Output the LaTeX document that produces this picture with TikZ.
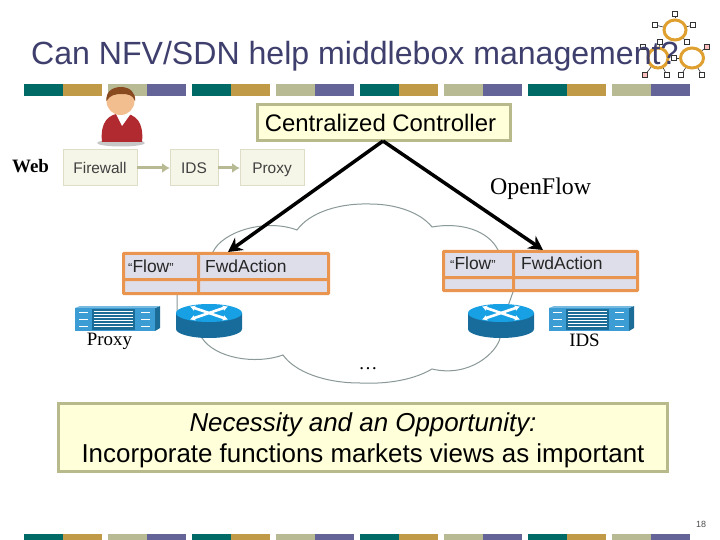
\documentclass[tikz,border=0pt]{standalone}
\usepackage{fontspec}
\setmainfont{Liberation Sans}
\newfontfamily\serifface{Liberation Serif}
\usetikzlibrary{arrows.meta,shapes.geometric}
\definecolor{barteal}{HTML}{006B66}
\definecolor{bargold}{HTML}{C09A46}
\definecolor{barkhaki}{HTML}{B8BA94}
\definecolor{barpurple}{HTML}{646498}
\definecolor{titleblue}{HTML}{3F3F6E}
\definecolor{noteyellow}{HTML}{FFFFD9}
\definecolor{noteedge}{HTML}{B8BA8C}
\definecolor{chainfill}{HTML}{F6F6E8}
\definecolor{chainedge}{HTML}{DEDEC8}
\definecolor{tableorange}{HTML}{E9954F}
\definecolor{tablefill}{HTML}{DEDEEA}
\definecolor{cloudgrey}{HTML}{8A9898}
\definecolor{routertop}{HTML}{18A0E4}
\definecolor{routerside}{HTML}{186C9C}
\definecolor{appfront}{HTML}{3C9CD4}
\definecolor{appside}{HTML}{1C6C98}
\definecolor{logoorange}{HTML}{E0A030}
\definecolor{shirt}{HTML}{B02A30}
\definecolor{skin}{HTML}{F2BE90}
\definecolor{hair}{HTML}{8A4A20}
\tikzset{
  notebox/.style={draw=noteedge,fill=noteyellow,line width=3bp,inner sep=0pt,outer sep=0pt,text=black},
  chainbox/.style={draw=chainedge,fill=chainfill,line width=1bp,inner sep=0pt,outer sep=0pt,minimum height=36bp,text=black!75,text height=13bp,text depth=1bp,font=\fontsize{15.5}{18}\selectfont},
  chainarrow/.style={draw=barkhaki,line width=3bp,-{Latex[length=8bp,width=10bp]}},
  ctrlarrow/.style={draw=black,line width=3.5bp,-{Stealth[length=14bp,width=15bp]}},
  flowcell/.style={draw=tableorange,fill=tablefill,line width=3bp,inner sep=0pt,outer sep=0pt,anchor=north west,rounded corners=0.5bp},
  celltext/.style={inner sep=0pt,anchor=west,text=black!85,font=\fontsize{17.5}{20}\selectfont},
  serifl/.style={inner sep=0pt,text=black,font=\serifface\fontsize{19}{22}\selectfont},
  tinysq/.style={draw=black!80,fill=white,line width=0.9bp,inner sep=0pt,minimum size=4.5bp},
  logoring/.style={ellipse,draw=logoorange,line width=3bp,inner sep=0pt},
  router/.pic={
    \fill[routerside] (-33,-8) -- (-33,8) arc[start angle=180,end angle=0,x radius=33,y radius=9] -- (33,-8) -- cycle;
    \fill[routertop] (0,-8) ellipse[x radius=33,y radius=9];
    \foreach \a/\b in {-19/-14.5, -19/-1.5, 19/-14.5, 19/-1.5}{
      \draw[white,line width=2.6bp,-{Latex[length=5bp,width=6bp]}] (0,-8) -- (\a,\b);
    }
  },
  appliance/.pic={
    \fill[appside] (80,2) -- (85,0) -- (85,22) -- (80,25) -- cycle;
    \fill[appfront!70!white] (0,2) -- (5,0) -- (85,0) -- (80,2) -- cycle;
    \fill[appfront] (0,2) rectangle (80,25);
    \fill[appside] (17,3) rectangle (60,24);
    \foreach \i in {5,8,11,14,17,20}{\draw[white,line width=0.9bp] (19,\i) -- (58,\i);}
    \foreach \x in {4,66}{
      \foreach \y in {6,13,20}{\draw[white,line width=0.7bp] (\x,\y) -- (\x+9,\y);}
    }
  }
}
\begin{document}
\begin{tikzpicture}[x=1bp,y=-1bp]
\useasboundingbox[fill=white] (0,0) rectangle (720,540);

% decorative bars
\foreach \dx in {0,168,336,504}{
  \foreach \yy/\hh in {84/12,534/6}{
    \fill[barteal] (24+\dx,\yy) rectangle ++(39,\hh);
    \fill[bargold] (63+\dx,\yy) rectangle ++(39,\hh);
    \fill[barkhaki] (108+\dx,\yy) rectangle ++(39,\hh);
    \fill[barpurple] (147+\dx,\yy) rectangle ++(39,\hh);
  }
}

% logo
\node[logoring,minimum width=22bp,minimum height=20bp] (ringa) at (675,30) {};
\node[logoring,minimum width=20bp,minimum height=20bp] (ringb) at (658,58) {};
\node[logoring,minimum width=23bp,minimum height=20bp] (ringc) at (692,58) {};
\foreach \n/\x/\y/\r/\cc in {a1/675/14/ringa/white,a2/655/25/ringa/white,a3/693/25/ringa/white,a4/687/42/ringa/white,
  b1/660/42/ringb/white,b2/643/47/ringb/white,b3/645/75/ringb/pink,b4/667/75/ringb/white,
  c1/674/58/ringc/white,c2/707/47/ringc/pink,c3/681/75/ringc/white,c4/702/75/ringc/white}{
  \node[tinysq,fill=\cc] (\n) at (\x,\y) {};
  \draw[black!80,line width=0.6bp] (\n) -- (\r);
}

% title
\node[inner sep=0pt,anchor=west,text=titleblue,font=\fontsize{32.2}{36}\selectfont] (title) at (31,56.5) {Can NFV/SDN help middlebox management?};

% person
\fill[black!22] (121,143) ellipse[x radius=24,y radius=3.5];
\fill[shirt] (102,142) .. controls (100,122) and (108,114) .. (122,113) .. controls (136,114) and (144,122) .. (142,142) -- cycle;
\fill[white] (115,112) -- (122,126) -- (132,112) -- cycle;
\fill[skin] (120.5,101) ellipse[x radius=14,y radius=14];
\fill[hair] (106.5,101) .. controls (105.5,92) and (112,87) .. (121,87) .. controls (130,87) and (136,93) .. (135,101) .. controls (133,95) and (128,94) .. (122,94) .. controls (115,94) and (110,95) .. (106.5,101) -- cycle;

% cloud
\draw[cloudgrey,line width=1bp] (213,252) .. controls (222,232) and (265,218) .. (297,230)
  .. controls (310,212) and (340,203) .. (370,204)
  .. controls (395,204) and (420,212) .. (432,227)
  .. controls (460,222) and (488,230) .. (498,250)
  -- (513,292) -- (508,306) -- (500,338)
  .. controls (497,352) and (470,378) .. (432,369)
  .. controls (410,382) and (380,384) .. (360,383)
  .. controls (325,383) and (295,372) .. (283,355)
  .. controls (255,365) and (215,358) .. (202,338)
  -- (190,330) -- (177,315) -- (177,280) -- cycle;

% service chain
\node[serifl,anchor=west] (web) at (12,166) {\textbf{Web}};
\node[chainbox,minimum width=74bp,anchor=west] (fw) at (63,168) {Firewall};
\node[chainbox,minimum width=48bp,anchor=west] (ids) at (170,168) {IDS};
\node[chainbox,minimum width=64bp,anchor=west] (proxy) at (240,168) {Proxy};
\draw[chainarrow] (fw) -- (ids);
\draw[chainarrow] (ids) -- (proxy);

% controller
\node[notebox,minimum width=253bp,minimum height=36bp,font=\fontsize{24}{28}\selectfont] (ctrl) at (384,122.5) {Centralized Controller\hspace{7bp}\null};
\node[serifl,anchor=west,font=\serifface\fontsize{24}{28}\selectfont] (of) at (490,189) {OpenFlow};

% flow tables
\node[flowcell,minimum width=75bp,minimum height=26bp] (la) at (123.5,253.5) {};
\node[flowcell,minimum width=130bp,minimum height=26bp] (lb) at (198.5,253.5) {};
\node[flowcell,minimum width=75bp,minimum height=14bp] (lc) at (123.5,279.5) {};
\node[flowcell,minimum width=130bp,minimum height=14bp] (ld) at (198.5,279.5) {};
\node[flowcell,minimum width=70bp,minimum height=26bp] (ra) at (443.5,251.5) {};
\node[flowcell,minimum width=124bp,minimum height=26bp] (rb) at (513.5,251.5) {};
\node[flowcell,minimum width=70bp,minimum height=13bp] (rc) at (443.5,277.5) {};
\node[flowcell,minimum width=124bp,minimum height=13bp] (rd) at (513.5,277.5) {};
\node[celltext] (lf) at (128,266) {\fontsize{13}{14}\selectfont“\fontsize{17.5}{20}\selectfont Flow\fontsize{13}{14}\selectfont”};
\node[celltext] (lg) at (205,266) {FwdAction};
\node[celltext] (rf) at (450,263) {\fontsize{13}{14}\selectfont“\fontsize{17.5}{20}\selectfont Flow\fontsize{13}{14}\selectfont”};
\node[celltext] (rg) at (521,263) {FwdAction};

% controller arrows
\coordinate (apex) at (383,141);
\coordinate (tipl) at (228,252);
\coordinate (tipr) at (543,250);
\draw[ctrlarrow] (apex) -- (tipl);
\draw[ctrlarrow] (apex) -- (tipr);

% devices
\pic at (209,321) {router};
\pic at (501,321) {router};
\pic at (75,306) {appliance};
\pic at (549,306) {appliance};
\node[serifl,anchor=base] (lproxy) at (109.5,345.5) {Proxy};
\node[serifl,anchor=base] (lids) at (584.5,346) {IDS};
\node[serifl] (dots) at (368,369) {…};

% note
\node[notebox,minimum width=609bp,minimum height=68bp,align=center,font=\fontsize{26}{31}\selectfont] (note) at (363,437.5) {\rule{0pt}{25bp}\textit{Necessity and an Opportunity:}\\Incorporate functions markets views as important};

\node[inner sep=0pt,text=black!70,font=\fontsize{9}{10}\selectfont] (page) at (701,524) {18};
\end{tikzpicture}
\end{document}
